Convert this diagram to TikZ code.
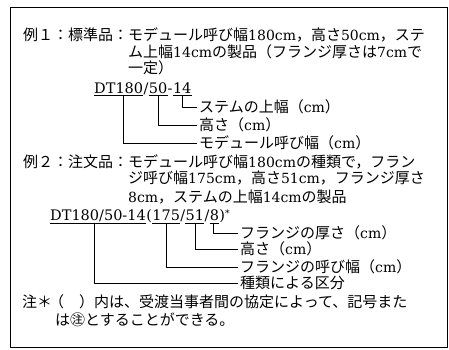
\documentclass[tikz,border=0pt]{standalone}
\usepackage{fontspec}
\newfontfamily\jp{Noto Sans CJK JP}
\newfontfamily\lf{DejaVu Serif}
\usetikzlibrary{calc}
\newcommand\lat[1]{{\lf\fontsize{14}{18}\selectfont #1}}
\tikzset{
  txt/.style={anchor=base west, inner sep=0pt, font=\jp\fontsize{15}{18}\selectfont},
  dtx/.style={anchor=base west, inner sep=0pt, font=\lf\fontsize{14.5}{18}\selectfont},
  ul/.style={line width=0.6pt},
  conn/.style={line width=0.5pt},
  frame/.style={line width=1pt}
}
\begin{document}
\begin{tikzpicture}[x=1pt,y=-1pt]
\useasboundingbox (0,0) rectangle (449,349);
\draw[frame] (10,7) rectangle (447,347);
% Example 1
\node[txt] (t1) at (23,40.5) {例１：標準品：モデュール呼び幅\lat{180cm}，高さ\lat{50cm}，ステ};
\node[txt] (t2) at (128,57.5) {ム上幅\lat{14cm}の製品（フランジ厚さは\lat{7cm}で};
\node[txt] (t3) at (128,73.5) {一定）};
\node[dtx] (a1) at (94,93) {DT180};
\node[dtx] (a2) at (a1.base east) {/};
\node[dtx] (a3) at (a2.base east) {50};
\node[dtx] (a4) at (a3.base east) {-};
\node[dtx] (a5) at (a4.base east) {14};
\foreach \n in {a1,a3,a5}{\draw[ul] ([yshift=-2.5pt]\n.base west) -- ([yshift=-2.5pt]\n.base east);}
\node[txt] (la1) at (199,112.5) {ステムの上幅（\lat{cm}）};
\node[txt] (la2) at (199,130.5) {高さ（\lat{cm}）};
\node[txt] (la3) at (199,148.5) {モデュール呼び幅（\lat{cm}）};
\coordinate (ca1) at ($([yshift=-2.5pt]a1.base west)!0.6!([yshift=-2.5pt]a1.base east)$);
\coordinate (ca3) at ($([yshift=-2.5pt]a3.base west)!0.5!([yshift=-2.5pt]a3.base east)$);
\coordinate (ca5) at ($([yshift=-2.5pt]a5.base west)!0.5!([yshift=-2.5pt]a5.base east)$);
\draw[conn] (ca5) |- ([xshift=-2pt]la1.west);
\draw[conn] (ca3) |- ([xshift=-2pt]la2.west);
\draw[conn] (ca1) |- ([xshift=-2pt]la3.west);
% Example 2
\node[txt] (u1) at (23,167.5) {例２：注文品：モデュール呼び幅\lat{180cm}の種類で，フラン};
\node[txt] (u2) at (128,183.5) {ジ呼び幅\lat{175cm}，高さ\lat{51cm}，フランジ厚さ};
\node[txt] (u3) at (128,202) {\lat{8cm}，ステムの上幅\lat{14cm}の製品};
\node[dtx] (b1) at (50,220.5) {DT180/50-14};
\node[dtx] (b2) at (b1.base east) {(};
\node[dtx] (b3) at (b2.base east) {175};
\node[dtx] (b4) at (b3.base east) {/};
\node[dtx] (b5) at (b4.base east) {51};
\node[dtx] (b6) at (b5.base east) {/};
\node[dtx] (b7) at (b6.base east) {8};
\node[dtx] (b8) at (b7.base east) {)\raisebox{4pt}{\fontsize{9}{9}\selectfont *}};
\foreach \n in {b1,b3,b5,b7}{\draw[ul] ([yshift=-2.5pt]\n.base west) -- ([yshift=-2.5pt]\n.base east);}
\node[txt] (lb1) at (240,238.5) {フランジの厚さ（\lat{cm}）};
\node[txt] (lb2) at (240,254.5) {高さ（\lat{cm}）};
\node[txt] (lb3) at (240,272.5) {フランジの呼び幅（\lat{cm}）};
\node[txt] (lb4) at (240,288.5) {種類による区分};
\coordinate (cb1) at ($([yshift=-2.5pt]b1.base west)!0.46!([yshift=-2.5pt]b1.base east)$);
\coordinate (cb3) at ($([yshift=-2.5pt]b3.base west)!0.5!([yshift=-2.5pt]b3.base east)$);
\coordinate (cb5) at ($([yshift=-2.5pt]b5.base west)!0.5!([yshift=-2.5pt]b5.base east)$);
\coordinate (cb7) at ($([yshift=-2.5pt]b7.base west)!0.4!([yshift=-2.5pt]b7.base east)$);
\draw[conn] (cb7) |- ([xshift=-2pt]lb1.west);
\draw[conn] (cb5) |- ([xshift=-2pt]lb2.west);
\draw[conn] (cb3) |- ([xshift=-2pt]lb3.west);
\draw[conn] (cb1) |- ([xshift=-2pt]lb4.west);
% Note
\node[txt] (n0) at (22,307.5) {注＊};
\node[txt] (n1) at (49,307.5) {（　）内は、受渡当事者間の協定によって、記号また};
\node[txt] (n2) at (55,325.5) {は㊟とすることができる。};
\end{tikzpicture}
\end{document}
